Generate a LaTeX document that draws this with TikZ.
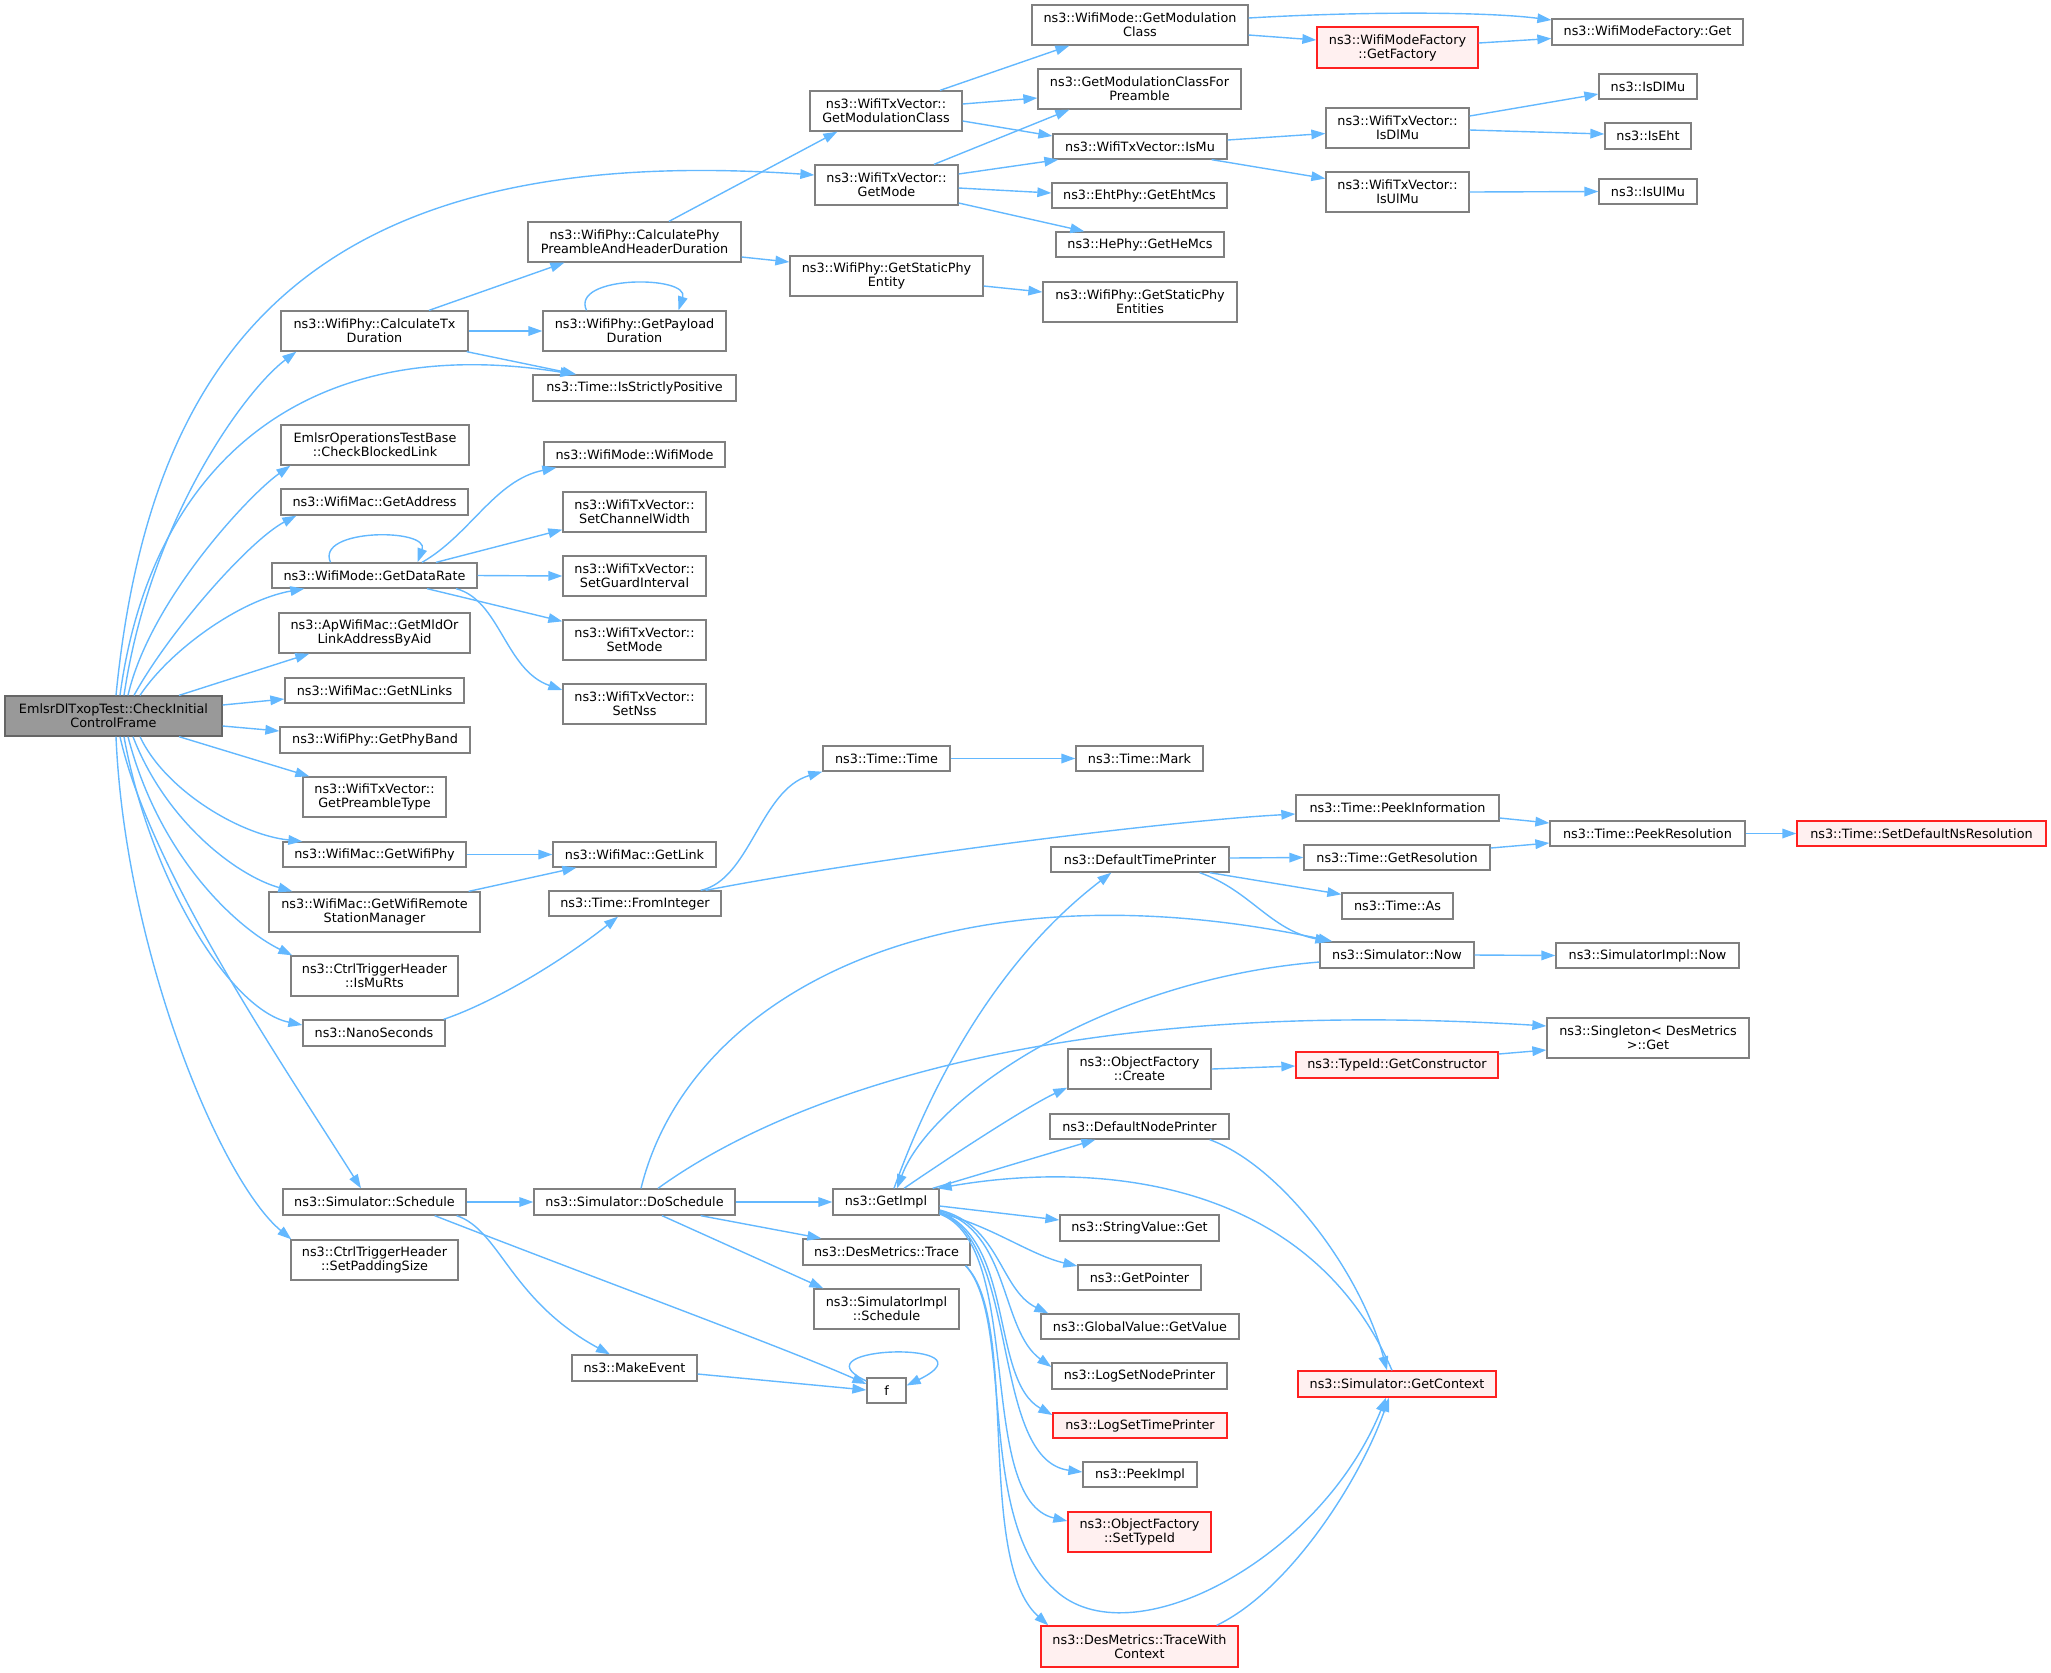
\documentclass[tikz,border=0pt]{standalone}
\usepackage{fontspec}
\setmainfont{DejaVu Sans}
\usetikzlibrary{arrows.meta,calc}
\definecolor{edgec}{HTML}{63B8FF}
\definecolor{nodeb}{HTML}{808080}
\definecolor{rootfill}{HTML}{999999}
\definecolor{rootb}{HTML}{666666}
\definecolor{redfill}{HTML}{FFF0F0}
\definecolor{redb}{HTML}{FF2020}
\begin{document}
\begin{tikzpicture}[x=0.5pt,y=-0.5pt,
  nb/.style={draw=nodeb, fill=white, line width=0.65pt, inner sep=0pt, align=center,
    font=\fontsize{6.4}{7}\selectfont},
  sz/.style 2 args={minimum width=#1*0.5pt, minimum height=#2*0.5pt},
  rednode/.style={draw=redb, fill=redfill},
  rootnode/.style={draw=rootb, fill=rootfill},
  cedge/.style={draw=edgec, line width=0.7pt, -{Triangle[length=7pt,width=4.8pt]}}]
\useasboundingbox (0,0) rectangle (2051,1672);
% ---------------- nodes ----------------
\node[nb, rootnode, sz={217}{40}] (root) at (113.5,716) {EmlsrDlTxopTest::CheckInitial\\ControlFrame};
\node[nb, sz={187}{40}] (ctx) at (374.5,331) {ns3::WifiPhy::CalculateTx\\Duration};
\node[nb, sz={213}{40}] (cph) at (634.5,242) {ns3::WifiPhy::CalculatePhy\\PreambleAndHeaderDuration};
\node[nb, sz={183}{40}] (gpd) at (634.5,331) {ns3::WifiPhy::GetPayload\\Duration};
\node[nb, sz={203}{26}] (isp) at (634.5,388) {ns3::Time::IsStrictlyPositive};
\node[nb, sz={188}{40}] (cbl) at (375,445) {EmlsrOperationsTestBase\\::CheckBlockedLink};
\node[nb, sz={187}{26}] (gaddr) at (374.5,502) {ns3::WifiMac::GetAddress};
\node[nb, sz={181}{25}] (wmwm) at (634.5,454.5) {ns3::WifiMode::WifiMode};
\node[nb, sz={143}{40}] (scw) at (634.5,512) {ns3::WifiTxVector::\\SetChannelWidth};
\node[nb, sz={205}{25}] (gdr) at (374.5,575.5) {ns3::WifiMode::GetDataRate};
\node[nb, sz={143}{40}] (sgi) at (634.5,576) {ns3::WifiTxVector::\\SetGuardInterval};
\node[nb, sz={143}{40}] (smode) at (634.5,640) {ns3::WifiTxVector::\\SetMode};
\node[nb, sz={143}{40}] (snss) at (634.5,704) {ns3::WifiTxVector::\\SetNss};
\node[nb, sz={191}{40}] (gmld) at (374.5,633) {ns3::ApWifiMac::GetMldOr\\LinkAddressByAid};
\node[nb, sz={179}{25}] (gnl) at (374.5,690.5) {ns3::WifiMac::GetNLinks};
\node[nb, sz={190}{26}] (gpb) at (375,740) {ns3::WifiPhy::GetPhyBand};
\node[nb, sz={143}{40}] (gpt) at (374.5,797) {ns3::WifiTxVector::\\GetPreambleType};
\node[nb, sz={183}{25}] (gwp) at (374.5,854.5) {ns3::WifiMac::GetWifiPhy};
\node[nb, sz={163}{25}] (glink) at (634.5,854.5) {ns3::WifiMac::GetLink};
\node[nb, sz={211}{40}] (gwrsm) at (374.5,912) {ns3::WifiMac::GetWifiRemote\\StationManager};
\node[nb, sz={172}{25}] (fint) at (635,903.5) {ns3::Time::FromInteger};
\node[nb, sz={167}{40}] (imr) at (374.5,976) {ns3::CtrlTriggerHeader\\::IsMuRts};
\node[nb, sz={142}{26}] (nano) at (374,1033) {ns3::NanoSeconds};
\node[nb, sz={183}{26}] (sched) at (374.5,1202) {ns3::Simulator::Schedule};
\node[nb, sz={167}{40}] (sps) at (374.5,1260) {ns3::CtrlTriggerHeader\\::SetPaddingSize};
\node[nb, sz={201}{26}] (dosch) at (634.5,1202) {ns3::Simulator::DoSchedule};
\node[nb, sz={125}{26}] (mkev) at (634.5,1368) {ns3::MakeEvent};
\node[nb, sz={152}{40}] (wtgmc) at (886,111) {ns3::WifiTxVector::\\GetModulationClass};
\node[nb, sz={143}{40}] (gmode) at (886.5,185) {ns3::WifiTxVector::\\GetMode};
\node[nb, sz={193}{40}] (gsphy) at (886.5,276) {ns3::WifiPhy::GetStaticPhy\\Entity};
\node[nb, sz={216}{40}] (wmgmc) at (1140,25) {ns3::WifiMode::GetModulation\\Class};
\node[nb, sz={203}{40}] (gmcp) at (1139.5,89) {ns3::GetModulationClassFor\\Preamble};
\node[nb, sz={174}{25}] (ismu) at (1140,146.5) {ns3::WifiTxVector::IsMu};
\node[nb, sz={175}{25}] (eht) at (1139.5,195.5) {ns3::EhtPhy::GetEhtMcs};
\node[nb, sz={168}{25}] (he) at (1140,244.5) {ns3::HePhy::GetHeMcs};
\node[nb, sz={194}{40}] (gsphys) at (1140,302) {ns3::WifiPhy::GetStaticPhy\\Entities};
\node[nb, rednode, sz={161}{41}] (gfact) at (1397.5,47.5) {ns3::WifiModeFactory\\::GetFactory};
\node[nb, sz={191}{26}] (wmfget) at (1647.5,32) {ns3::WifiModeFactory::Get};
\node[nb, sz={143}{40}] (tvdl) at (1397.5,128) {ns3::WifiTxVector::\\IsDlMu};
\node[nb, sz={143}{40}] (tvul) at (1397.5,192) {ns3::WifiTxVector::\\IsUlMu};
\node[nb, sz={98}{25}] (isdl) at (1648,86.5) {ns3::IsDlMu};
\node[nb, sz={86}{26}] (iseht) at (1648,136) {ns3::IsEht};
\node[nb, sz={98}{25}] (isul) at (1648,191.5) {ns3::IsUlMu};
\node[nb, sz={127}{25}] (ttime) at (886.5,758.5) {ns3::Time::Time};
\node[nb, sz={127}{25}] (tmark) at (1139.5,758.5) {ns3::Time::Mark};
\node[nb, sz={203}{26}] (tpi) at (1397.5,808) {ns3::Time::PeekInformation};
\node[nb, sz={178}{25}] (dtp) at (1140,859.5) {ns3::DefaultTimePrinter};
\node[nb, sz={186}{25}] (tgr) at (1397,857.5) {ns3::Time::GetResolution};
\node[nb, sz={111}{26}] (tas) at (1397.5,906) {ns3::Time::As};
\node[nb, sz={154}{26}] (snow) at (1397,955) {ns3::Simulator::Now};
\node[nb, sz={143}{40}] (ofc) at (1139.5,1069) {ns3::ObjectFactory\\::Create};
\node[nb, rednode, sz={202}{26}] (tgc) at (1397,1065) {ns3::TypeId::GetConstructor};
\node[nb, sz={195}{25}] (tpr) at (1647.5,833.5) {ns3::Time::PeekResolution};
\node[nb, rednode, sz={249}{25}] (sdns) at (1921.5,833.5) {ns3::Time::SetDefaultNsResolution};
\node[nb, sz={183}{25}] (sinow) at (1647.5,955.5) {ns3::SimulatorImpl::Now};
\node[nb, sz={202}{40}] (sing) at (1648,1038) {ns3::Singleton< DesMetrics\\ >::Get};
\node[nb, sz={179}{25}] (dnp) at (1139.5,1126.5) {ns3::DefaultNodePrinter};
\node[nb, sz={106}{26}] (gimpl) at (886,1202) {ns3::GetImpl};
\node[nb, sz={159}{26}] (svg) at (1139.5,1228) {ns3::StringValue::Get};
\node[nb, sz={167}{26}] (dmt) at (886.5,1252) {ns3::DesMetrics::Trace};
\node[nb, sz={123}{25}] (gptr) at (1139.5,1277.5) {ns3::GetPointer};
\node[nb, sz={145}{40}] (sis) at (886.5,1309) {ns3::SimulatorImpl\\::Schedule};
\node[nb, sz={198}{25}] (ggv) at (1140,1326.5) {ns3::GlobalValue::GetValue};
\node[nb, sz={39}{25}] (ff) at (886.5,1390.5) {f};
\node[nb, sz={175}{26}] (lsnp) at (1139.5,1376) {ns3::LogSetNodePrinter};
\node[nb, rednode, sz={198}{26}] (gctx) at (1397,1384) {ns3::Simulator::GetContext};
\node[nb, rednode, sz={174}{25}] (lstp) at (1140,1425.5) {ns3::LogSetTimePrinter};
\node[nb, sz={114}{25}] (pimpl) at (1140,1474.5) {ns3::PeekImpl};
\node[nb, rednode, sz={143}{40}] (ofst) at (1139.5,1532) {ns3::ObjectFactory\\::SetTypeId};
\node[nb, rednode, sz={197}{41}] (dmtwc) at (1139.5,1646.5) {ns3::DesMetrics::TraceWith\\Context};
% ---------------- edges from root ----------------
\draw[cedge] ($(root.north)+(2.5,0)$) .. controls (150,350) and (310,140) .. ($(gmode.west)+(0,-10)$);
\draw[cedge] ($(root.north)+(6.5,0)$) .. controls (150,470) and (300,330) .. ($(isp.north west)+(42,0)$);
\draw[cedge] ($(root.north)+(10.5,0)$) .. controls (150,520) and (245,390) .. ($(ctx.south west)+(16,0)$);
\draw[cedge] ($(root.north)+(14.5,0)$) .. controls (150,600) and (250,494) .. ($(cbl.south west)+(10,0)$);
\draw[cedge] ($(root.north)+(20.5,0)$) .. controls (170,630) and (250,540) .. ($(gaddr.south west)+(16,0)$);
\draw[cedge] ($(root.north)+(26.5,0)$) .. controls (170,650) and (240,600) .. ($(gdr.south west)+(33,0)$);
\draw[cedge] ($(root.north)+(65.5,0)$) -- ($(gmld.south west)+(31,0)$);
\draw[cedge] ($(root.east)+(0,-11)$) -- ($(gnl.west)+(0,8.5)$);
\draw[cedge] ($(root.east)+(0,10)$) -- ($(gpb.west)+(0,-9)$);
\draw[cedge] ($(root.south)+(65.5,0)$) -- ($(gpt.north west)+(7,0)$);
\draw[cedge] ($(root.south)+(26.5,0)$) .. controls (165,790) and (240,835) .. ($(gwp.north west)+(20,0)$);
\draw[cedge] ($(root.south)+(19.5,0)$) .. controls (165,820) and (235,875) .. ($(gwrsm.north west)+(24,0)$);
\draw[cedge] ($(root.south)+(14.5,0)$) .. controls (160,860) and (240,930) .. ($(imr.north west)+(2,0)$);
\draw[cedge] ($(root.south)+(10.5,0)$) .. controls (150,880) and (230,1010) .. ($(nano.west)+(0,-8)$);
\draw[cedge] ($(root.south)+(6.5,0)$) .. controls (150,870) and (280,1060) .. ($(sched.north)+(-13.5,0)$);
\draw[cedge] ($(root.south)+(2.5,0)$) .. controls (125,950) and (220,1180) .. ($(sps.north west)+(1,0)$);
% ---------------- other edges ----------------
\draw[cedge] ($(ctx.north)+(54.5,0)$) -- ($(cph.south west)+(37,0)$);
\draw[cedge] (ctx.east) -- (gpd.west);
\draw[cedge] ($(ctx.south east)+(-2,0)$) -- ($(isp.north west)+(44,0)$);
\draw[cedge] ($(cph.north)+(34.5,0)$) -- ($(wtgmc.south west)+(28,0)$);
\draw[cedge] ($(cph.east)+(0,15)$) -- ($(gsphy.west)+(0,-14)$);
\draw[cedge] ($(gpd.north)+(-48,0)$) .. controls (570,275) and (690,275) .. ($(gpd.north)+(44,0)$);
\draw[cedge] ($(gsphy.east)+(0,10)$) -- ($(gsphys.west)+(0,-10)$);
\draw[cedge] ($(wtgmc.north)+(54,0)$) -- ($(wmgmc.south west)+(38,0)$);
\draw[cedge] ($(wtgmc.east)+(0,-7)$) -- ($(gmcp.west)+(0,9)$);
\draw[cedge] ($(wtgmc.east)+(0,10)$) -- ($(ismu.west)+(0,-10.5)$);
\draw[cedge] ($(gmode.north)+(47.5,0)$) -- ($(gmcp.south west)+(32,0)$);
\draw[cedge] ($(gmode.east)+(0,-11)$) -- ($(ismu.south west)+(6,0)$);
\draw[cedge] ($(gmode.east)+(0,3)$) -- ($(eht.west)+(0,-2.5)$);
\draw[cedge] ($(gmode.east)+(0,18)$) -- ($(he.north west)+(29,0)$);
\draw[cedge] ($(wmgmc.east)+(0,-7)$) .. controls (1350,12) and (1480,11) .. ($(wmfget.west)+(0,-12)$);
\draw[cedge] ($(wmgmc.east)+(0,10)$) -- ($(gfact.west)+(0,-7.5)$);
\draw[cedge] ($(gfact.east)+(0,-4.5)$) -- ($(wmfget.west)+(0,6.5)$);
\draw[cedge] ($(ismu.east)+(0,-6.5)$) -- ($(tvdl.west)+(0,5.5)$);
\draw[cedge] ($(ismu.south east)+(-16,0)$) -- ($(tvul.west)+(0,-13.5)$);
\draw[cedge] ($(tvdl.east)+(0,-12)$) -- ($(isdl.west)+(0,7.5)$);
\draw[cedge] ($(tvdl.east)+(0,2)$) -- ($(iseht.west)+(0,-2)$);
\draw[cedge] (tvul.east) -- (isul.west);
\draw[cedge] ($(gdr.north)+(-44,0)$) .. controls (315,528) and (430,528) .. ($(gdr.north)+(43,0)$);
\draw[cedge] ($(gdr.north)+(47.5,0)$) .. controls (470,535) and (495,480) .. ($(wmwm.south west)+(13,0)$);
\draw[cedge] ($(gdr.north)+(61.5,0)$) -- ($(scw.south west)+(0,-3)$);
\draw[cedge] (gdr.east) -- (sgi.west);
\draw[cedge] ($(gdr.south)+(52.5,0)$) -- ($(smode.north west)+(0,2)$);
\draw[cedge] ($(gdr.south)+(81.5,0)$) .. controls (500,600) and (505,670) .. ($(snss.west)+(0,-14)$);
\draw[cedge] (gwp.east) -- (glink.west);
\draw[cedge] ($(gwrsm.north east)+(-12,0)$) -- ($(glink.south west)+(24,0)$);
\draw[cedge] ($(nano.north east)+(-2,0)$) .. controls (500,1000) and (570,955) .. ($(fint.south)+(-17,0)$);
\draw[cedge] ($(fint.north east)+(-21,0)$) .. controls (750,880) and (760,790) .. (ttime.south west);
\draw[cedge] ($(fint.north east)+(-16,0)$) .. controls (850,862) and (1150,822) .. ($(tpi.west)+(0,6)$);
\draw[cedge] (ttime.east) -- (tmark.west);
\draw[cedge] ($(tpi.east)+(0,10)$) -- ($(tpr.west)+(0,-10.5)$);
\draw[cedge] ($(tgr.east)+(0,-9.5)$) -- ($(tpr.west)+(0,9.5)$);
\draw[cedge] (tpr.east) -- (sdns.west);
\draw[cedge] ($(dtp.east)+(0,-1.5)$) -- (tgr.west);
\draw[cedge] ($(dtp.south east)+(-20,0)$) -- ($(tas.north west)+(0,2)$);
\draw[cedge] ($(dtp.south east)+(-30,0)$) .. controls (1250,890) and (1270,930) .. ($(snow.north west)+(10,0)$);
\draw[cedge] ($(dosch.north)+(6.5,0)$) .. controls (690,990) and (950,860) .. ($(snow.north west)+(13,0)$);
\draw[cedge] (snow.east) -- (sinow.west);
\draw[cedge] ($(snow.west)+(0,7)$) .. controls (1100,980) and (930,1100) .. ($(gimpl.north)+(11,0)$);
\draw[cedge] ($(gimpl.north)+(8,0)$) .. controls (940,1060) and (1010,950) .. ($(dtp.south west)+(61,0)$);
\draw[cedge] ($(gimpl.north)+(18,0)$) .. controls (960,1150) and (1030,1105) .. ($(ofc.south west)+(0,-2)$);
\draw[cedge] ($(gimpl.north east)+(-7,0)$) -- ($(dnp.south west)+(46,0)$);
\draw[cedge] ($(gctx.north)+(-5,0)$) .. controls (1310,1180) and (1100,1160) .. ($(gimpl.north east)+(-2,0)$);
\draw[cedge] ($(gimpl.east)+(0,4)$) -- ($(svg.west)+(0,-8)$);
\draw[cedge] ($(gimpl.east)+(0,11)$) .. controls (990,1225) and (1030,1255) .. ($(gptr.west)+(0,-11.5)$);
\draw[cedge] ($(gimpl.east)+(0,8)$) .. controls (1000,1225) and (1000,1290) .. ($(ggv.north west)+(8,0)$);
\draw[cedge] ($(gimpl.east)+(0,9)$) .. controls (1010,1230) and (1000,1330) .. ($(lsnp.west)+(0,-9)$);
\draw[cedge] ($(gimpl.east)+(0,10)$) .. controls (1015,1240) and (990,1380) .. ($(lstp.west)+(0,-10.5)$);
\draw[cedge] ($(gimpl.east)+(0,11)$) .. controls (1020,1240) and (990,1460) .. ($(pimpl.west)+(0,-2.5)$);
\draw[cedge] ($(gimpl.east)+(0,12)$) .. controls (1025,1245) and (975,1500) .. ($(ofst.west)+(0,-11)$);
\draw[cedge] ($(dmt.south east)+(-5,0)$) .. controls (1020,1320) and (975,1560) .. ($(dmtwc.north west)+(8,0)$);
\draw[cedge] ($(dmt.south east)+(-5,0)$) .. controls (1015,1320) and (975,1520) .. (1055,1590) .. controls (1130,1660) and (1320,1560) .. ($(gctx.south)+(-11,0)$);
\draw[cedge] ($(dmtwc.north east)+(-22,0)$) .. controls (1290,1590) and (1360,1480) .. ($(gctx.south)+(-8,0)$);
\draw[cedge] ($(dnp.south east)+(-20,0)$) .. controls (1280,1165) and (1360,1270) .. ($(gctx.north)+(-10,0)$);
\draw[cedge] (dosch.east) -- (gimpl.west);
\draw[cedge] ($(dosch.south east)+(-35,0)$) -- ($(dmt.north west)+(19,0)$);
\draw[cedge] ($(dosch.south)+(27.5,0)$) -- ($(sis.north west)+(10,0)$);
\draw[cedge] ($(dosch.north)+(23.5,0)$) .. controls (780,1100) and (1050,995) .. ($(sing.west)+(0,-12)$);
\draw[cedge] (ofc.east) -- ($(tgc.west)+(0,1)$);
\draw[cedge] ($(tgc.east)+(0,-11)$) -- ($(sing.west)+(0,12)$);
\draw[cedge] (sched.east) -- (dosch.west);
\draw[cedge] ($(sched.south east)+(-10,0)$) .. controls (500,1230) and (510,1300) .. ($(mkev.north)+(-24.5,0)$);
\draw[cedge] ($(sched.south east)+(-32,0)$) .. controls (600,1280) and (790,1350) .. ($(ff.west)+(0,-6.5)$);
\draw[cedge] ($(mkev.east)+(0,6)$) -- ($(ff.west)+(0,-0.5)$);
\draw[cedge] ($(ff.west)+(0,-9.5)$) .. controls (790,1345) and (1000,1340) .. ($(ff.east)+(0,-5)$);
\end{tikzpicture}
\end{document}
